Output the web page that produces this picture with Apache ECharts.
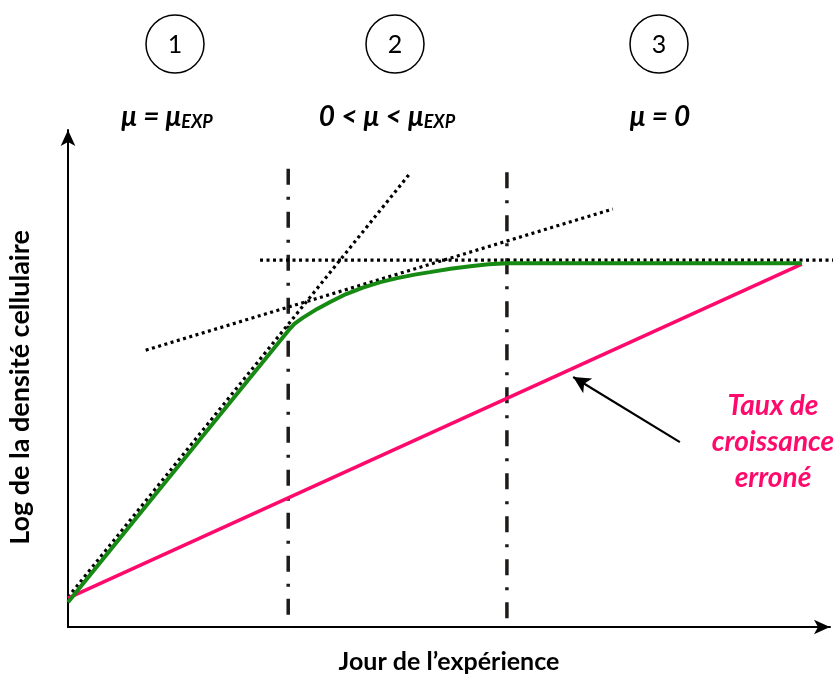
<!DOCTYPE html>
<html><head><meta charset="utf-8">
<script src="https://cdn.jsdelivr.net/npm/echarts@6/dist/echarts.min.js"></script>
<style>html,body{margin:0;padding:0;background:#fff}#c{width:839px;height:675px}</style>
</head><body><div id="c"></div>
<script>
// Schematic values (x: time units, y: log density units)
const greenCurve = [[0,0.50],[1.47,3.28],[2.89,5.96],[2.97,6.10],[3.08,6.22],[3.27,6.40],[3.44,6.54],[3.65,6.70],[3.87,6.83],[4.10,6.94],[4.32,7.02],[4.55,7.09],[4.75,7.14],[5.02,7.21],[5.28,7.26],[5.52,7.30],[5.76,7.32],[9.63,7.32]];
const pinkLine = [[0,0.58],[9.63,7.30]];
const tangentExp = [[0,0.60],[4.49,9.13]];
const tangentMid = [[1.02,5.57],[7.15,8.41]];
const plateau = [[2.52,7.38],[10.12,7.38]];
const phaseLine1 = [[2.89,9.22],[2.89,0]];
const phaseLine2 = [[5.76,9.15],[5.76,0]];
const arrowFrom = [8.03,3.72];
const arrowTo = [6.63,5.03];
const phaseNumbers = ['1','2','3'];
const xTitle = 'Jour de l\u2019expérience';
const yTitle = 'Log de la densité cellulaire';
const errText = 'Taux de\ncroissance\nerroné';

const FONT = 'Lato, "Open Sans", sans-serif';
const pink = '#ff0a6c';
const green = '#168a12';
const dark = '#1e1b18';

const chart = echarts.init(document.getElementById('c'));
const circCx = [175, 395, 659];
const graphics = [];
phaseNumbers.forEach((n,i)=>{
  graphics.push({type:'circle', shape:{cx:circCx[i], cy:44, r:29}, style:{fill:'#fff', stroke:'#000', lineWidth:1.5}});
  graphics.push({type:'text', x:circCx[i], y:45, style:{text:n, font:'25px '+FONT, fill:'#000', align:'center', verticalAlign:'middle'}});
});
const lab = (text, x) => ({type:'text', x:x, y:117, style:{text:text, align:'center', verticalAlign:'middle',
  rich:{m:{fontFamily:FONT, fontSize:28, fontWeight:'bold', fontStyle:'italic', fill:'#000'},
        s:{fontFamily:FONT, fontSize:18, fontWeight:'bold', fontStyle:'italic', fill:'#000', padding:[10,0,0,0]}}}});
graphics.push(lab('{m|μ = μ}{s|EXP}', 167));
graphics.push(lab('{m|0 < μ < μ}{s|EXP}', 387));
graphics.push(lab('{m|μ = 0}', 660));
graphics.push({type:'text', x:773, y:442, style:{text:errText, align:'center', verticalAlign:'middle', lineHeight:36,
  font:'italic bold 28px '+FONT, fill:pink}});

const lineSeries = (data, color, width, type, z) => ({type:'line', data:data, symbol:'none', clip:false, z:z||2,
  lineStyle:{color:color, width:width, type:type, cap:'butt'}, silent:true, animation:false});

chart.setOption({
  animation:false,
  grid:{left:68, right:9, top:130, bottom:48, containLabel:false, outerBoundsMode:'none'},
  xAxis:{type:'value', min:0, max:10, name:xTitle, nameLocation:'middle', nameGap:22,
    nameTextStyle:{fontFamily:FONT, fontSize:25, fontWeight:'bold', color:'#000'},
    axisLine:{lineStyle:{color:'#000', width:2}, symbol:['none','arrow'], symbolSize:[11,16]},
    axisTick:{show:false}, axisLabel:{show:false}, splitLine:{show:false}},
  yAxis:{type:'value', min:0, max:10, name:yTitle, nameLocation:'middle', nameGap:34,
    nameTextStyle:{fontFamily:FONT, fontSize:27, fontWeight:'bold', color:'#000', padding:[0,18,0,0]},
    axisLine:{show:true, lineStyle:{color:'#000', width:2}, symbol:['none','arrow'], symbolSize:[11,16]},
    axisTick:{show:false}, axisLabel:{show:false}, splitLine:{show:false}},
  graphic:graphics,
  series:[
    lineSeries(phaseLine1, dark, 3.5, [16,12,3,12], 1),
    lineSeries(phaseLine2, dark, 3.5, [16,12,3,12], 1),
    lineSeries(tangentExp, '#000', 3.2, [3,3.5], 3),
    lineSeries(tangentMid, '#000', 3.2, [3,3.5], 3),
    lineSeries(plateau, '#000', 3.2, [3,3.5], 3),
    Object.assign(lineSeries(pinkLine, pink, 3.5, 'solid', 4), {
      markLine:{silent:true, symbol:['none','arrow'], symbolSize:[13,17], animation:false,
        lineStyle:{color:'#000', width:2.2, type:'solid'}, label:{show:false},
        data:[[{coord:arrowFrom},{coord:arrowTo}]]}}),
    lineSeries(greenCurve, green, 4, 'solid', 5)
  ]
});
</script></body></html>
